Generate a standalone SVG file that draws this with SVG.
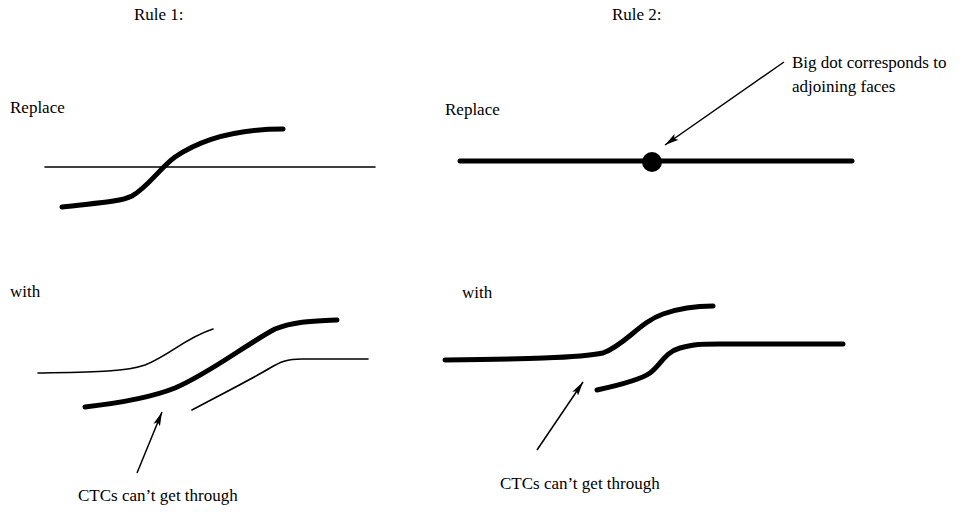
<svg xmlns="http://www.w3.org/2000/svg" width="966" height="514" viewBox="0 0 966 514">
<style>
text{font-family:"Liberation Serif","Times New Roman",serif;font-size:17px;fill:#000}
.thin{fill:none;stroke:#000;stroke-width:1.6;stroke-linecap:round}
.thick{fill:none;stroke:#000;stroke-width:5;stroke-linecap:round}
.arr{fill:none;stroke:#000;stroke-width:1.5;marker-end:url(#ah)}
</style>
<defs>
<marker id="ah" viewBox="0 0 20 10" refX="20" refY="5" markerWidth="14" markerHeight="7" markerUnits="userSpaceOnUse" orient="auto">
<path d="M0,0 L20,5 L0,10 L4,5 Z" fill="#000"/>
</marker>
</defs>
<g id="labels">
<text x="134" y="20">Rule 1:</text>
<text x="612" y="20">Rule 2:</text>
<text x="10" y="113">Replace</text>
<text x="445" y="115">Replace</text>
<text x="10" y="297">with</text>
<text x="462" y="298">with</text>
<text x="792" y="68">Big dot corresponds to</text>
<text x="792" y="92">adjoining faces</text>
<text x="78" y="501">CTCs can’t get through</text>
<text x="500" y="489">CTCs can’t get through</text>
</g>
<g id="rule1-replace">
<path class="thin" d="M45,167 L375,167"/>
<path class="thick" d="M62,207 C95,203 120,202 132,196 C148,187 160,168 175,157 C200,140 235,129 283,129"/>
</g>
<g id="rule1-with">
<path class="thin" d="M38,373 C90,372 125,372 145,365 C170,355 185,338 213,329"/>
<path class="thick" d="M85,407 C120,403 150,398 175,388 C210,373 245,345 275,329 C295,321 315,321 337,320"/>
<path class="thin" d="M192,410 C220,395 250,380 270,368 C280,362 287,359 302,359 L368,359"/>
</g>
<g id="rule2-replace">
<path class="thick" d="M460,161 L852,161"/>
<circle cx="652" cy="162" r="10" fill="#000"/>
</g>
<g id="rule2-with">
<path class="thick" d="M445,360 C520,359 580,358 603,353 C625,345 640,322 663,314 C680,308 695,306 713,306"/>
<path class="thick" d="M597,390 C620,385 640,380 650,373 C660,366 665,352 680,348 C695,344 700,344 720,344 L843,344"/>
</g>
<g id="connectors">
<path class="arr" d="M784,62 L665,145"/>
<path class="arr" d="M137,473 L162,412"/>
<path class="arr" d="M537,450 L583,382"/>
</g>
</svg>
